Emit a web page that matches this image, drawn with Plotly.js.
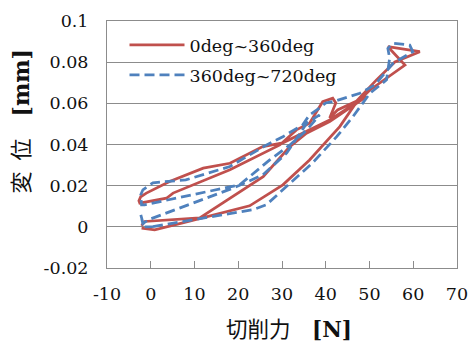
<!DOCTYPE html>
<html><head><meta charset="utf-8">
<script src="https://cdn.plot.ly/plotly-3.0.1.min.js"></script>
<style>html,body{margin:0;padding:0;background:#fff}</style>
</head><body><div id="chart" style="width:470px;height:347px"></div>
<script>
const seriesNames = ['0deg~360deg', '360deg~720deg'];

const redX = [-2.1, 0.9, 8.2, 22.6, 30.2, 36.3, 43.2, 46.6, 50.1, 58.1, 54.2, 61.5, 55.8, 51.6, 46.2, 40.9, 30.2, 25.6, 18.1, 12.0, 4.3, -1.0, -2.3, -2.7, -2.5, 3.6, 5.1, 18.1, 29.5, 33.3, 36.3, 39.3, 41.6, 42.3, 40.9, 42.7, 49.3, 40.9, 35.6, 31.8, 25.7, 18.1, 11.2, -1.4, -2.1];
const redY = [-0.0006, -0.0015, 0.0024, 0.0102, 0.0204, 0.0325, 0.0487, 0.0592, 0.0665, 0.0786, 0.0875, 0.0851, 0.0801, 0.0714, 0.0592, 0.0519, 0.0408, 0.0390, 0.0309, 0.0285, 0.0220, 0.0164, 0.0146, 0.0126, 0.0115, 0.0139, 0.0164, 0.0277, 0.0398, 0.0471, 0.0503, 0.0608, 0.0625, 0.0602, 0.0529, 0.0568, 0.0633, 0.0511, 0.0455, 0.0390, 0.0244, 0.0139, 0.0044, 0.0026, 0.0005];

const blueX = [0.5, 23.3, 26.4, 30.2, 37.0, 42.5, 46.2, 50.1, 53.9, 54.6, 54.2, 55.4, 59.2, 59.9, 55.4, 51.2, 47.8, 42.0, 40.0, 38.6, 36.3, 34.7, 30.2, 26.5, 18.1, 8.0, 0.5, -1.8, -2.3, -2.1, -1.4, 20.3, 27.2, 31.8, 35.7, 38.6, 35.7, 31.1, 25.6, 18.8, -0.6, -1.8, -2.3, -1.8, -2.0, 0.5];
const blueY = [0.0001, 0.0083, 0.0107, 0.0180, 0.0311, 0.0438, 0.0535, 0.0649, 0.0714, 0.0819, 0.0867, 0.0892, 0.0883, 0.0851, 0.0795, 0.0689, 0.0649, 0.0610, 0.0602, 0.0578, 0.0544, 0.0495, 0.0438, 0.0398, 0.0293, 0.0228, 0.0214, 0.0180, 0.0155, 0.0107, 0.0107, 0.0204, 0.0325, 0.0398, 0.0471, 0.0544, 0.0505, 0.0359, 0.0252, 0.0188, 0.0034, 0.0015, 0.0060, 0.0020, 0.0000, 0.0001];

const xTickVals = [-10, 0, 10, 20, 30, 40, 50, 60, 70];
const xTickText = ['-10', '0', '10', '20', '30', '40', '50', '60', '70'];
const yTickVals = [-0.02, 0, 0.02, 0.04, 0.06, 0.08, 0.1];
const yTickText = ['-0.02', '0', '0.02', '0.04', '0.06', '0.08', '0.1'];
const xTitle = '切削力\u3000<b>[N]</b>';
const yTitle = '変\u2002位\u3000<b>[mm]</b>';

const serif = 'DejaVu Serif, Liberation Serif, Noto Sans CJK JP, serif';
const txtColor = '#111111';
const gridColor = '#8c8c8c';

const data = [
  {x: redX, y: redY, type: 'scatter', mode: 'lines', name: seriesNames[0],
   line: {color: '#C0504D', width: 2.75}, legend: 'legend'},
  {x: blueX, y: blueY, type: 'scatter', mode: 'lines', name: seriesNames[1],
   line: {color: '#4F81BD', width: 2.75, dash: '10px,5px'}, legend: 'legend2'}
];

const legendCommon = {bgcolor: 'rgba(0,0,0,0)', borderwidth: 0, font: {family: serif, size: 17.5, color: txtColor},
  itemwidth: 55, xanchor: 'left', yanchor: 'middle'};

const layout = {
  width: 470, height: 347,
  margin: {l: 107, r: 13, t: 21, b: 79},
  paper_bgcolor: '#fff', plot_bgcolor: '#fff',
  showlegend: true,
  legend: Object.assign({x: 0.05, y: 0.903}, legendCommon),
  legend2: Object.assign({x: 0.05, y: 0.781}, legendCommon),
  xaxis: {range: [-10, 70], tickvals: xTickVals, ticktext: xTickText, ticks: 'inside', ticklen: 7,
    tickcolor: gridColor, showgrid: false, zeroline: false, showline: true, mirror: true,
    linecolor: gridColor, linewidth: 1, ticklabelstandoff: 10,
    tickfont: {family: serif, size: 17.5, color: txtColor}},
  yaxis: {range: [-0.02, 0.1], tickvals: yTickVals, ticktext: yTickText, ticks: '',
    showgrid: true, gridcolor: gridColor, gridwidth: 1, zeroline: false, showline: true, mirror: true,
    linecolor: gridColor, linewidth: 1, ticklabelstandoff: 14,
    tickfont: {family: serif, size: 17.5, color: txtColor}},
  annotations: [
    {text: xTitle, xref: 'paper', yref: 'paper', x: 0.52, y: -0.251, xanchor: 'center', yanchor: 'middle',
     showarrow: false, font: {family: serif, size: 21.5, color: txtColor}},
    {text: yTitle, xref: 'paper', yref: 'paper', x: -0.246, y: 0.593, xanchor: 'center', yanchor: 'middle',
     textangle: -90, showarrow: false, font: {family: serif, size: 22, color: txtColor}}
  ]
};

Plotly.newPlot('chart', data, layout, {displayModeBar: false, staticPlot: true});
</script>
</body></html>
